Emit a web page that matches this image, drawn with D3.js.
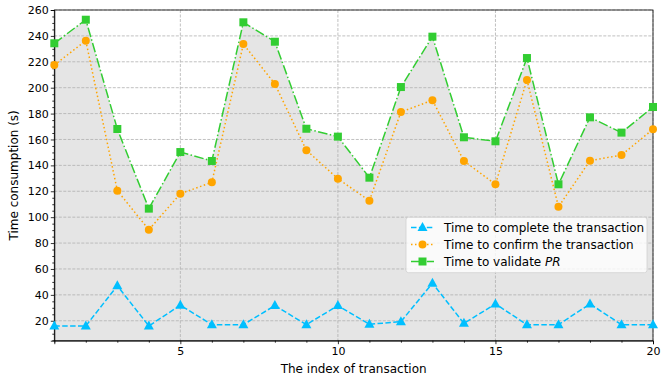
<!DOCTYPE html>
<html><head><meta charset="utf-8">
<script src="https://cdn.jsdelivr.net/npm/d3@7"></script>
<style>body{margin:0;background:#fff}svg text{font-family:"DejaVu Sans",sans-serif}</style>
</head><body><svg id="c" width="661" height="381"></svg>
<script>
const xIndex = d3.range(1, 21);
const completeTx = [16, 16, 47, 16, 32, 17, 17, 31.7, 17, 31.7, 17.3, 19.3, 49, 18, 33, 17, 17, 33, 17, 17];
const confirmTx = [217.5, 236.3, 120.5, 90.3, 118.1, 126.9, 233.7, 202.9, 151.7, 129.7, 112.7, 181.2, 190.3, 143.4, 125.4, 206, 108, 143.6, 148, 167.9];
const validatePR = [234.3, 252.5, 168.1, 106.6, 150.3, 143.4, 250.5, 235.5, 168.3, 162.2, 130.5, 200.5, 239.4, 161.7, 158.6, 222.9, 125.4, 177.1, 165.3, 185.1];
const yTicks = d3.range(20, 261, 20);
const xTicks = [5, 10, 15, 20];
const legendLabels = ["Time to complete the transaction", "Time to confirm the transaction", "Time to validate "];

const svg = d3.select("#c");
const L = 54.3, R = 653, T = 10, B = 340.7;
const x = d3.scaleLinear().domain([1, 20]).range([L, R]);
const y = d3.scaleLinear().domain([4.6, 260]).range([B, T]);

// fill
svg.append("path").datum(xIndex)
  .attr("fill", "#e5e5e5")
  .attr("d", d3.area().x(d => x(d)).y0(B).y1((d, i) => y(validatePR[i])));

// grid
const g = svg.append("g");
yTicks.forEach(v => g.append("line").attr("x1", L).attr("x2", R).attr("y1", y(v)).attr("y2", y(v))
  .attr("stroke", "#b0b0b0").attr("stroke-width", 0.8).attr("stroke-dasharray", "3,1.5"));
xTicks.forEach(v => g.append("line").attr("x1", x(v)).attr("x2", x(v)).attr("y1", T).attr("y2", B)
  .attr("stroke", "#b0b0b0").attr("stroke-width", 0.8).attr("stroke-dasharray", "3,1.5"));

// axes
const yAxis = d3.axisLeft(y).tickValues(yTicks).tickSize(3.5).tickPadding(2);
svg.append("g").attr("transform", `translate(${L},0)`).call(yAxis);
const yMinor = d3.axisLeft(y).tickValues(d3.range(5, 261, 5).filter(v => v % 20 !== 0)).tickSize(2).tickFormat("");
svg.append("g").attr("transform", `translate(${L},0)`).call(yMinor).select(".domain").remove();
const xAxis = d3.axisBottom(x).tickValues(xTicks).tickSize(3.5).tickPadding(3);
svg.append("g").attr("transform", `translate(0,${B})`).call(xAxis);
const xMinor = d3.axisBottom(x).tickValues(xIndex.filter(v => !xTicks.includes(v))).tickSize(2).tickFormat("");
svg.append("g").attr("transform", `translate(0,${B})`).call(xMinor).select(".domain").remove();
svg.selectAll(".tick text").attr("font-size", 11).attr("fill", "#000").style("font-family", "DejaVu Sans");
svg.selectAll(".tick line").attr("stroke", "#000").attr("stroke-width", 0.8);
svg.selectAll(".domain").attr("stroke", "#000").attr("stroke-width", 0.8);
// box
svg.append("rect").attr("x", L).attr("y", T).attr("width", R - L).attr("height", B - T)
  .attr("fill", "none").attr("stroke", "#000").attr("stroke-width", 0.8);

const line = arr => d3.line().x((d, i) => x(xIndex[i])).y(d => y(d))(arr);
const blue = "#00bfff", orange = "#ffa500", green = "#32cd32";

function marker(sel, type, color, cx, cy) {
  if (type === "tri") {
    const s = 5;
    sel.append("path").attr("d", `M${cx},${cy - s * 1.1}L${cx + s},${cy + s * 0.7}L${cx - s},${cy + s * 0.7}Z`).attr("fill", color);
  } else if (type === "circ") {
    sel.append("circle").attr("cx", cx).attr("cy", cy).attr("r", 4).attr("fill", color);
  } else {
    sel.append("rect").attr("x", cx - 4).attr("y", cy - 4).attr("width", 8).attr("height", 8).attr("fill", color);
  }
}

const series = [
  {data: completeTx, color: blue, dash: "5.5,2.4", type: "tri"},
  {data: confirmTx, color: orange, dash: "1.5,2.5", type: "circ"},
  {data: validatePR, color: green, dash: "9.6,2.4,1.5,2.4", type: "sq"}
];
const plot = svg.append("g");
series.forEach(s => {
  plot.append("path").attr("d", line(s.data)).attr("fill", "none").attr("stroke", s.color)
    .attr("stroke-width", 1.5).attr("stroke-dasharray", s.dash);
});
series.forEach(s => {
  s.data.forEach((v, i) => marker(plot, s.type, s.color, x(xIndex[i]), y(v)));
});

// labels
svg.append("text").attr("x", (L + R) / 2).attr("y", 373).attr("text-anchor", "middle")
  .attr("font-size", 12).text("The index of transaction");
svg.append("text").attr("transform", `translate(17.5,${(T + B) / 2}) rotate(-90)`).attr("text-anchor", "middle")
  .attr("font-size", 12).text("Time consumption (s)");

// legend
const lg = svg.append("g");
lg.append("rect").attr("x", 406).attr("y", 217.3).attr("width", 241).attr("height", 55.4).attr("rx", 2.5)
  .attr("fill", "rgba(255,255,255,0.8)").attr("stroke", "#d0d0d0").attr("stroke-width", 0.8);
const rowsY = [227.5, 244.5, 261.5];
series.forEach((s, i) => {
  lg.append("line").attr("x1", 411).attr("x2", 434).attr("y1", rowsY[i]).attr("y2", rowsY[i])
    .attr("stroke", s.color).attr("stroke-width", 1.5).attr("stroke-dasharray", s.dash);
  marker(lg, s.type, s.color, 422.5, rowsY[i]);
  const t = lg.append("text").attr("x", 444).attr("y", rowsY[i] + 4.2).attr("font-size", 12).text(legendLabels[i]);
  if (i === 2) t.append("tspan").attr("font-style", "italic").text("PR");
});
</script></body></html>
